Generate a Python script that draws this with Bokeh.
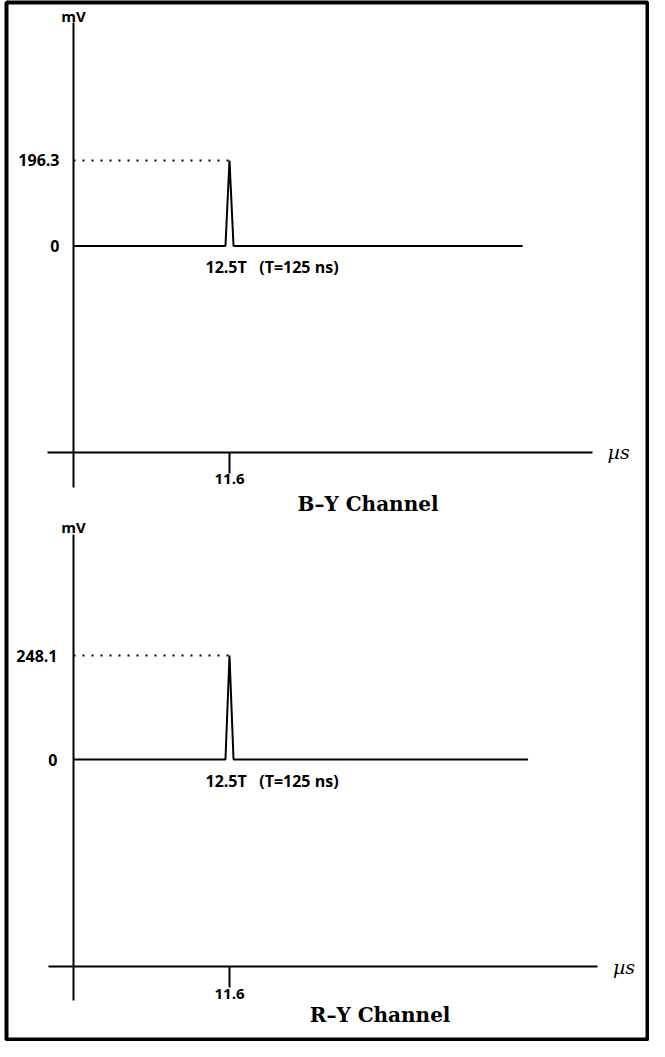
from bokeh.plotting import figure
from bokeh.models import Range1d, LinearAxis, FixedTicker, Label
from bokeh.embed import file_html
from bokeh.resources import INLINE

# ---- data ----
channels = ["B\u2013Y Channel", "R\u2013Y Channel"]
peak_mv = [196.3, 248.1]
pulse_time_us = 11.6
pulse_label = "12.5T\u00a0\u00a0\u00a0(T=125 ns)"
trace_t_by = [0.0, 11.3, 11.6, 11.9, 33.4]
trace_mv_by = [0.0, 0.0, 196.3, 0.0, 0.0]
trace_t_ry = [0.0, 11.3, 11.6, 11.9, 33.8]
trace_mv_ry = [0.0, 0.0, 248.1, 0.0, 0.0]
x_tick_labels = {11.6: "11.6"}

# ---- layout constants ----
W, H = 649, 1041
SANS = "Open Sans"
SERIF = "DejaVu Serif"

p = figure(width=W, height=H, output_backend="svg", toolbar_location=None,
           x_axis_type=None, y_axis_type=None, title=None,
           x_range=Range1d(-4.982, 42.683), y_range=Range1d(-1821.9, 559.0),
           min_border_left=6, min_border_right=2, min_border_top=2, min_border_bottom=2)
p.extra_y_ranges = {"ry": Range1d(-667.9, 1805.9)}
p.outline_line_color = "black"
p.outline_line_width = 4
p.background_fill_color = "white"
p.border_fill_color = "white"

panels = [
    dict(rng="default", peak=peak_mv[0], t=trace_t_by, mv=trace_mv_by, name=channels[0],
         vbounds=(-554, 513), taxis=-474.1, tbounds=(-1.9, 38.6),
         title_xy=(21.9, -593.5), standoff=14),
    dict(rng="ry", peak=peak_mv[1], t=trace_t_ry, mv=trace_mv_ry, name=channels[1],
         vbounds=(-575, 537), taxis=-493.8, tbounds=(-1.86, 39.0),
         title_xy=(22.8, -608.3), standoff=16),
]

for pan in panels:
    rn = pan["rng"]
    # vertical mV axis
    yax = LinearAxis(y_range_name=rn, fixed_location=0, bounds=pan["vbounds"],
                     ticker=FixedTicker(ticks=[0, pan["peak"]]),
                     major_label_overrides={0: "0", pan["peak"]: f"{pan['peak']:.1f}"},
                     major_tick_out=0, major_tick_in=0, minor_tick_out=0, minor_tick_in=0,
                     major_label_standoff=pan["standoff"],
                     axis_line_width=2, axis_line_color="black",
                     major_label_text_font=SANS, major_label_text_font_style="bold",
                     major_label_text_font_size="16px", major_label_text_color="black")
    p.add_layout(yax, "left")
    # horizontal time axis
    xax = LinearAxis(y_range_name=rn, fixed_location=pan["taxis"], bounds=pan["tbounds"],
                     ticker=FixedTicker(ticks=[pulse_time_us]),
                     major_label_overrides=x_tick_labels,
                     major_tick_out=21, major_tick_in=0, minor_tick_out=0, minor_tick_in=0,
                     major_tick_line_width=2, major_label_standoff=1,
                     axis_line_width=2, axis_line_color="black",
                     major_label_text_font=SANS, major_label_text_font_style="bold",
                     major_label_text_font_size="15px", major_label_text_color="black")
    p.add_layout(xax, "below")

    # trace with pulse
    p.line(pan["t"], pan["mv"], y_range_name=rn, line_color="black", line_width=2)
    # dotted peak level
    p.segment(x0=[0], y0=[pan["peak"]], x1=[pulse_time_us], y1=[pan["peak"]],
              y_range_name=rn, line_color="black", line_width=2, line_dash="2 7")

    p.add_layout(Label(x=0, y=pan["vbounds"][1], y_range_name=rn, text="mV",
                       text_align="center", text_baseline="bottom", y_offset=-3,
                       text_font=SANS, text_font_style="bold", text_font_size="15px",
                       text_color="black"))
    p.add_layout(Label(x=pulse_time_us, y=0, y_range_name=rn, text=pulse_label,
                       x_offset=-24, y_offset=-21, text_align="left", text_baseline="middle",
                       text_font=SANS, text_font_style="bold", text_font_size="16px",
                       text_color="black"))
    p.add_layout(Label(x=pan["tbounds"][1], y=pan["taxis"], y_range_name=rn, text="\u00b5s",
                       x_offset=15, text_align="left", text_baseline="middle",
                       text_font=SERIF, text_font_style="italic", text_font_size="19px",
                       text_color="black"))
    p.add_layout(Label(x=pan["title_xy"][0], y=pan["title_xy"][1], y_range_name=rn,
                       text=pan["name"], text_align="center", text_baseline="middle",
                       text_font=SERIF, text_font_style="bold", text_font_size="20px",
                       text_color="black"))

open("out.html", "w").write(file_html(p, INLINE))
